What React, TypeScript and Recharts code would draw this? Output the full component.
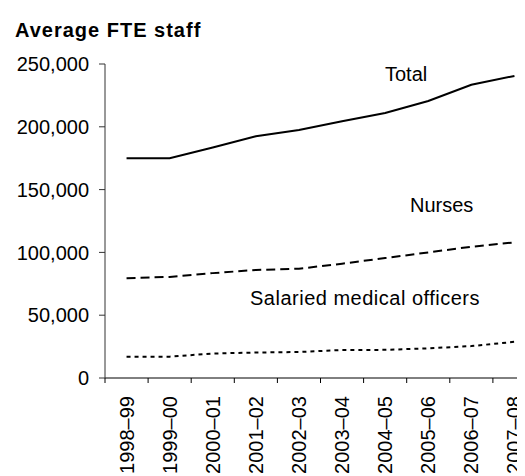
import React from 'react';
import { LineChart, Line, XAxis, YAxis } from 'recharts';

const years = ['1998–99', '1999–00', '2000–01', '2001–02', '2002–03', '2003–04', '2004–05', '2005–06', '2006–07', '2007–08'];
const total = [175000, 175000, 183500, 192500, 197500, 204500, 211000, 220500, 233500, 240500];
const nurses = [79500, 80500, 83500, 86000, 87000, 91000, 95500, 100000, 104500, 108000];
const medicalOfficers = [17000, 17000, 19500, 20300, 20700, 22300, 22400, 23600, 25400, 28800];
const yTicks = [0, 50000, 100000, 150000, 200000, 250000];

const data = years.map((year, i) => ({
  year,
  total: total[i],
  nurses: nurses[i],
  medical: medicalOfficers[i],
}));

const FONT = '"Liberation Sans", Arial, sans-serif';
const CHART_W = 540;
const CHART_H = 468;
const PLOT_LEFT = 97;
const PLOT_RIGHT_MARGIN = 12;
const PLOT_W = CHART_W - PLOT_LEFT - PLOT_RIGHT_MARGIN;
const BAND = PLOT_W / years.length;

const XTick = (props: any) => {
  const { x, y, payload } = props;
  const bx = x - BAND / 2;
  return (
    <g>
      <line x1={bx} x2={bx} y1={y - 18} y2={y - 13} stroke="#000" strokeWidth={1} />
      <text
        transform={`translate(${x},${y}) rotate(-90)`}
        textAnchor="end"
        dominantBaseline="central"
        fontSize={20}
        fontFamily={FONT}
        fill="#000"
      >
        {payload.value}
      </text>
    </g>
  );
};

const labelStyle: React.CSSProperties = {
  position: 'absolute',
  fontFamily: FONT,
  fontSize: 20,
  lineHeight: '20px',
  color: '#000',
  whiteSpace: 'nowrap',
};

export default function App() {
  return (
    <div style={{ position: 'relative', width: 517, height: 468, overflow: 'hidden', background: '#fff' }}>
      <div style={{ ...labelStyle, left: 7, top: 12, fontWeight: 'bold', letterSpacing: 1 }}>Average FTE staff</div>
      <LineChart
        width={CHART_W}
        height={CHART_H}
        data={data}
        margin={{ top: 56, right: PLOT_RIGHT_MARGIN, left: 0, bottom: 0 }}
      >
        <XAxis
          dataKey="year"
          height={98}
          padding={{ left: BAND / 2, right: BAND / 2 }}
          axisLine={{ stroke: '#000', strokeWidth: 1 }}
          tickLine={false}
          tickSize={5}
          tickMargin={13}
          interval={0}
          tick={<XTick />}
        />
        <YAxis
          width={PLOT_LEFT}
          domain={[0, 250000]}
          ticks={yTicks}
          interval={0}
          axisLine={{ stroke: '#333', strokeWidth: 1 }}
          tickLine={{ stroke: '#333', strokeWidth: 1 }}
          tickSize={6}
          tickMargin={10}
          tick={{ fill: '#000', fontSize: 20, fontFamily: FONT }}
          tickFormatter={(v: number) => v.toLocaleString('en-US')}
        />
        <Line type="linear" dataKey="total" stroke="#000" strokeWidth={2} dot={false} isAnimationActive={false} />
        <Line type="linear" dataKey="nurses" stroke="#000" strokeWidth={2} strokeDasharray="9 5" dot={false} isAnimationActive={false} />
        <Line type="linear" dataKey="medical" stroke="#000" strokeWidth={2} strokeDasharray="4 4" dot={false} isAnimationActive={false} />
      </LineChart>
      <div style={{ ...labelStyle, left: 377, top: 56 }}>Total</div>
      <div style={{ ...labelStyle, left: 402, top: 187 }}>Nurses</div>
      <div style={{ ...labelStyle, left: 242, top: 280, letterSpacing: 0.5 }}>Salaried medical officers</div>
    </div>
  );
}
